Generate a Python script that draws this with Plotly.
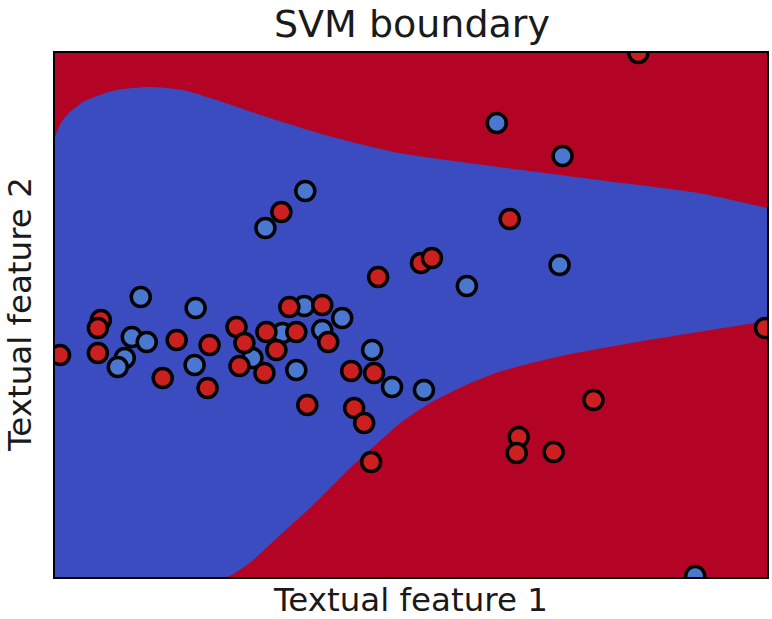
import plotly.graph_objects as go

# Class 0 (blue) samples
blue_x = [443, 509, 251, 211, 506, 413, 86, 141, 250, 288, 268, 228, 77, 92, 70, 63, 140, 198, 242, 318, 338, 370, 642]
blue_y = [454, 421, 386, 349, 312, 291, 280, 269, 271, 259, 247, 244, 240, 235, 219, 210, 212, 219, 207, 227, 190, 187, 1]

# Class 1 (red) samples
red_x = [585, 712, 540, 465, 463, 500, 317, 5, 227, 324, 367, 378, 456, 46, 43, 43, 122, 155, 108, 153,
         182, 212, 190, 242, 222, 185, 210, 235, 268, 274, 253, 297, 320, 300, 310]
red_y = [524, 249, 177, 140, 124, 125, 115, 222, 365, 300, 314, 319, 358, 257, 249, 224, 237, 232, 199, 189,
         250, 245, 234, 245, 227, 211, 204, 270, 272, 235, 172, 206, 204, 169, 154]

# Decision boundary of the blue (class 0) region
upper_x = [0, 6, 14, 28, 45, 62, 95, 128, 162, 212, 278, 345, 445, 545, 645, 714]
upper_y = [440, 454, 464, 475, 482, 487, 490, 487, 477, 460, 440, 424, 410, 397, 384, 369]
lower_x = [0, 172, 195, 228, 262, 295, 328, 345, 362, 378, 412, 445, 478, 512, 578, 645, 714]
lower_y = [0, 0, 14, 44, 75, 108, 138, 153, 165, 175, 192, 205, 214, 222, 234, 245, 256]

X_RANGE = [0, 714]
Y_RANGE = [0, 524]

RED_REGION = "#b40426"
BLUE_REGION = "#3b4cc0"

fig = go.Figure()
fig.add_trace(go.Scatter(
    x=lower_x, y=lower_y, mode="lines", line=dict(color=BLUE_REGION, width=0, shape="spline", smoothing=0.6),
    hoverinfo="skip", showlegend=False,
))
fig.add_trace(go.Scatter(
    x=upper_x, y=upper_y, mode="lines", fill="tonexty",
    fillcolor=BLUE_REGION, line=dict(color=BLUE_REGION, width=0, shape="spline", smoothing=0.6),
    hoverinfo="skip", showlegend=False,
))
fig.add_trace(go.Scatter(
    x=blue_x, y=blue_y, mode="markers", name="class 0",
    marker=dict(size=19, color="#4a78d0", line=dict(color="black", width=3.5)),
    showlegend=False,
))
fig.add_trace(go.Scatter(
    x=red_x, y=red_y, mode="markers", name="class 1",
    marker=dict(size=19, color="#cc2020", line=dict(color="black", width=3.5)),
    showlegend=False,
))

axis_common = dict(
    showgrid=False, zeroline=False, showticklabels=False, ticks="",
    showline=True, linecolor="black", linewidth=2, mirror=True,
)

fig.update_layout(
    width=772, height=619,
    margin=dict(l=55, r=3, t=53, b=42),
    paper_bgcolor="white",
    plot_bgcolor=RED_REGION,
    font=dict(family="DejaVu Sans", color="#1a1a1a"),
    title=dict(text="SVM boundary", x=0.5336, xanchor="center",
               yref="container", y=1 - 24 / 619, yanchor="middle",
               font=dict(size=38, family="DejaVu Sans", color="#1a1a1a")),
    xaxis=dict(range=X_RANGE, title=dict(text="Textual feature 1", standoff=10,
               font=dict(size=32.5)), **axis_common),
    yaxis=dict(range=Y_RANGE, **axis_common),
    annotations=[dict(
        text="Textual feature 2", textangle=-90, showarrow=False,
        xref="paper", yref="paper", x=-35 / 714, y=0.5,
        xanchor="center", yanchor="middle",
        font=dict(size=32.5, family="DejaVu Sans", color="#1a1a1a"),
    )],
)

fig.write_html("out.html")
